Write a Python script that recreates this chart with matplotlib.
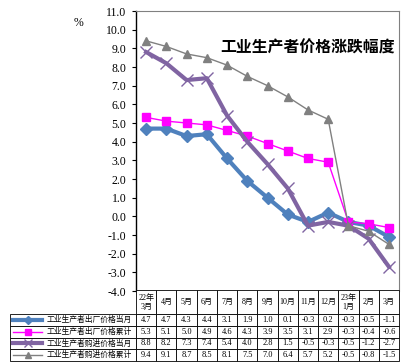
import matplotlib
matplotlib.use('Agg')
import matplotlib.pyplot as plt
from matplotlib.table import Table
from matplotlib.lines import Line2D

plt.rcParams['font.family'] = ['Liberation Serif', 'Noto Sans CJK SC', 'DejaVu Sans']

# ---- data ----
months = ['22年\n3月', '4月', '5月', '6月', '7月', '8月', '9月', '10月', '11月', '12月',
          '23年\n1月', '2月', '3月']
series_names = ['工业生产者出厂价格当月', '工业生产者出厂价格累计',
                '工业生产者购进价格当月', '工业生产者购进价格累计']
ppi_month = [4.7, 4.7, 4.3, 4.4, 3.1, 1.9, 1.0, 0.1, -0.3, 0.2, -0.3, -0.5, -1.1]
ppi_cum = [5.3, 5.1, 5.0, 4.9, 4.6, 4.3, 3.9, 3.5, 3.1, 2.9, -0.3, -0.4, -0.6]
ppirm_month = [8.8, 8.2, 7.3, 7.4, 5.4, 4.0, 2.8, 1.5, -0.5, -0.3, -0.5, -1.2, -2.7]
ppirm_cum = [9.4, 9.1, 8.7, 8.5, 8.1, 7.5, 7.0, 6.4, 5.7, 5.2, -0.5, -0.8, -1.5]
yticks = [-4.0, -3.0, -2.0, -1.0, 0.0, 1.0, 2.0, 3.0, 4.0, 5.0, 6.0, 7.0, 8.0, 9.0, 10.0, 11.0]
title = '工业生产者价格涨跌幅度'
unit = '%'

series = [ppi_month, ppi_cum, ppirm_month, ppirm_cum]
styles = [
    dict(color='#4F81BD', lw=3, marker='D', ms=6, mec='#4F81BD', mfc='#4F81BD'),
    dict(color='#FF00FF', lw=1, marker='s', ms=6, mec='#FF00FF', mfc='#FF00FF'),
    dict(color='#8064A2', lw=3, marker='x', ms=9, mew=1, mec='#8064A2'),
    dict(color='#808080', lw=1, marker='^', ms=6, mec='#808080', mfc='#808080'),
]

W, H = 402, 364
fig = plt.figure(figsize=(W / 100, H / 100), dpi=100)
ax_l, ax_r, ax_t, ax_b = 136, 399, 11, 291
ax = fig.add_axes([ax_l / W, 1 - ax_b / H, (ax_r - ax_l) / W, (ax_b - ax_t) / H])

x = list(range(len(months)))
for vals, st in zip(series, styles):
    ax.plot(x, vals, **st)

ax.set_xlim(-0.5, len(months) - 0.5)
ax.set_ylim(min(yticks), max(yticks))
ax.set_yticks(yticks)
ax.set_yticklabels([f'{v:.1f}' for v in yticks], fontsize=8.5)
ax.set_xticks([])
ax.tick_params(axis='y', direction='out', length=3, width=0.8, pad=4)
ax.spines['left'].set_color('black')
ax.spines['left'].set_linewidth(1.0)
for s in ['top', 'right']:
    ax.spines[s].set_color('#808080')
    ax.spines[s].set_linewidth(0.8)
ax.spines['bottom'].set_visible(False)

ax.text(0.985, 0.868, title, transform=ax.transAxes, ha='right', va='center',
        fontsize=11.4, fontweight='bold', family=['Noto Sans CJK SC'])
fig.text(79 / W, 1 - 23 / H, unit, ha='center', va='center', fontsize=8.5)

# ---- table ----
tab_l, tab_t, tab_b = 10, 290, 361
label_w = ax_l - tab_l
col_w = (ax_r - ax_l) / len(months)
head_h = 24.3
row_h = (tab_b - tab_t - head_h) / len(series)
axw = ax_r - ax_l
axh = ax_b - ax_t
bbox = [(tab_l - ax_l) / axw, (ax_b - tab_b) / axh,
        (ax_r - tab_l) / axw, (tab_b - tab_t) / axh]
tab = Table(ax, bbox=bbox)
tab.auto_set_font_size(False)
c = tab.add_cell(0, 0, label_w / axw, head_h / axh, text='')
c.visible_edges = 'open'
for j, m in enumerate(months):
    c = tab.add_cell(0, j + 1, col_w / axw, head_h / axh, text=m, loc='center', edgecolor='black')
    c.get_text().set_fontsize(5.8)
    c.set_linewidth(0.6)
for i, (name, vals) in enumerate(zip(series_names, series)):
    c = tab.add_cell(i + 1, 0, label_w / axw, row_h / axh, text=name, loc='right', edgecolor='black')
    c.PAD = 0.03
    c.get_text().set_fontsize(5.6)
    c.set_linewidth(0.6)
    for j, v in enumerate(vals):
        c = tab.add_cell(i + 1, j + 1, col_w / axw, row_h / axh, text=f'{v:.1f}', loc='center', edgecolor='black')
        c.get_text().set_fontsize(6)
        c.set_linewidth(0.6)
ax.add_table(tab)
tab.set_clip_on(False)
tab.set_zorder(5)

# legend samples inside the row-label cells
for i, st in enumerate(styles):
    yc_px = tab_t + head_h + (i + 0.5) * row_h
    yc = (ax_b - yc_px) / axh
    xs = [(tab_l + 0.025 * label_w - ax_l) / axw, (tab_l + 0.255 * label_w - ax_l) / axw]
    st2 = dict(st)
    st2['ms'] = st['ms'] * 0.7
    ln = Line2D(xs, [yc, yc], transform=ax.transAxes, clip_on=False, zorder=6,
                **{k: v for k, v in st2.items() if k != 'marker'})
    ax.add_line(ln)
    mk = Line2D([(xs[0] + xs[1]) / 2], [yc], transform=ax.transAxes, clip_on=False, ls='none', zorder=6,
                **{k: v for k, v in st2.items() if k != 'lw'})
    ax.add_line(mk)

fig.savefig('out.png', dpi=100)
